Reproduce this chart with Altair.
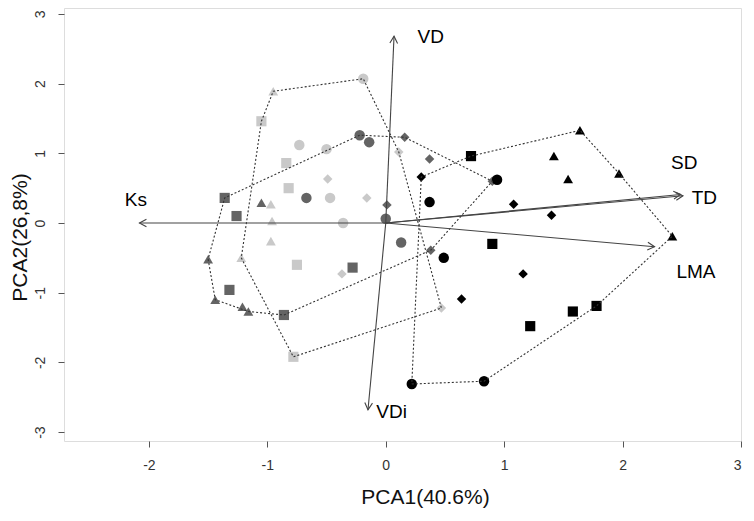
import math
import altair as alt
import pandas as pd

# ---------------- data ----------------
groups = (["light"] * 20) + (["dark"] * 20) + (["black"] * 20)
shapes = (
    # light
    ["circle", "triangle-up", "square", "circle", "circle", "square", "diamond", "square",
     "circle", "diamond", "triangle-up", "triangle-up", "circle", "triangle-up", "triangle-up",
     "square", "diamond", "square", "diamond", "diamond"]
    # dark
    + ["circle", "circle", "circle", "circle", "circle",
       "square", "square", "square", "square", "square",
       "triangle-up", "triangle-up", "triangle-up", "triangle-up", "triangle-up",
       "diamond", "diamond", "diamond", "diamond", "diamond"]
    # black
    + ["triangle-up", "triangle-up", "triangle-up", "triangle-up", "triangle-up",
       "square", "square", "square", "square", "square",
       "circle", "circle", "circle", "circle", "circle",
       "diamond", "diamond", "diamond", "diamond", "diamond"]
)
pc1 = (
    [-0.19, -0.95, -1.05, -0.73, -0.50, -0.84, -0.49, -0.82, -0.47, -0.16,
     -0.97, -0.96, -0.36, -0.97, -1.22, -0.75, -0.37, -0.78, 0.11, 0.47]
    + [-0.22, -0.14, -0.67, 0.00, 0.13,
       -1.36, -1.26, -0.28, -1.32, -0.86,
       -1.05, -1.50, -1.44, -1.21, -1.16,
       0.16, 0.37, 0.01, 0.38, 0.90]
    + [1.64, 1.42, 1.97, 1.54, 2.42,
       0.72, 0.90, 1.78, 1.58, 1.22,
       0.94, 0.37, 0.49, 0.22, 0.83,
       0.30, 1.08, 1.40, 1.16, 0.64]
)
pc2 = (
    [2.07, 1.89, 1.46, 1.12, 1.06, 0.86, 0.63, 0.50, 0.36, 0.36,
     0.27, 0.03, 0.00, -0.26, -0.50, -0.60, -0.73, -1.92, 1.02, -1.22]
    + [1.26, 1.16, 0.36, 0.06, -0.28,
       0.36, 0.10, -0.64, -0.96, -1.32,
       0.29, -0.52, -1.10, -1.20, -1.27,
       1.23, 0.92, 0.26, -0.39, 0.60]
    + [1.33, 0.96, 0.71, 0.63, -0.19,
       0.96, -0.30, -1.19, -1.27, -1.48,
       0.62, 0.30, -0.50, -2.31, -2.27,
       0.66, 0.27, 0.11, -0.73, -1.09]
)

arrow_names = ["Ks", "VD", "VDi", "SD", "TD", "LMA"]
arrow_x = [-2.08, 0.07, -0.15, 2.49, 2.51, 2.27]
arrow_y = [0.00, 2.68, -2.68, 0.41, 0.39, -0.34]
label_x = [-2.11, 0.38, 0.05, 2.52, 2.69, 2.62]
label_y = [0.33, 2.67, -2.71, 0.86, 0.36, -0.70]

x_ticks = [-2, -1, 0, 1, 2, 3]
y_ticks = [-3, -2, -1, 0, 1, 2, 3]

# ---------------- layout ----------------
W, H = 677, 433
XD = [-2.717, 3.0]
YD = [-3.128, 3.085]
kx = W / (XD[1] - XD[0])
ky = H / (YD[1] - YD[0])
FONT = "Liberation Sans"

pts = pd.DataFrame({"group": groups, "shape": shapes, "x": pc1, "y": pc2})


def convex_hull(p):
    p = sorted(set(p))
    if len(p) < 3:
        return p

    def cross(o, a, b):
        return (a[0] - o[0]) * (b[1] - o[1]) - (a[1] - o[1]) * (b[0] - o[0])

    lower, upper = [], []
    for q in p:
        while len(lower) >= 2 and cross(lower[-2], lower[-1], q) <= 0:
            lower.pop()
        lower.append(q)
    for q in reversed(p):
        while len(upper) >= 2 and cross(upper[-2], upper[-1], q) <= 0:
            upper.pop()
        upper.append(q)
    return lower[:-1] + upper[:-1]


hull_rows = []
for g in ["light", "dark", "black"]:
    sub = pts[pts.group == g]
    h = convex_hull(list(zip(sub.x, sub.y)))
    h = h + [h[0]]
    for i, (hx, hy) in enumerate(h):
        hull_rows.append({"group": g, "i": i, "x": hx, "y": hy})
hull = pd.DataFrame(hull_rows)

arr = pd.DataFrame({"name": arrow_names, "x": arrow_x, "y": arrow_y,
                    "lx": label_x, "ly": label_y})
arr["x0"] = 0.0
arr["y0"] = 0.0
arr["ang"] = [
    (math.degrees(math.atan2(-dy * ky, dx * kx)) + 360) % 360
    for dx, dy in zip(arr.x, arr.y)
]

xs = alt.Scale(domain=XD, nice=False, zero=False)
ys = alt.Scale(domain=YD, nice=False, zero=False)

x_axis = alt.Axis(
    values=x_ticks, title="PCA1(40.6%)", grid=False, domain=False,
    labelExpr="toString(datum.value)",
    tickSize=6, tickColor="#555", labelFontSize=14, labelColor="#333",
    labelFont=FONT, labelPadding=11, titleFont=FONT, titleFontSize=21,
    titleFontWeight="normal", titleColor="#111", titleX=361, titleY=56,
    titleAlign="center", titleBaseline="middle",
)
y_axis = alt.Axis(
    values=y_ticks, title="PCA2(26,8%)", grid=False, domain=False,
    labelExpr="toString(datum.value)",
    tickSize=6, tickColor="#555", labelFontSize=14, labelColor="#333",
    labelFont=FONT, labelAngle=270, labelAlign="center", labelBaseline="middle",
    labelPadding=18, titleFont=FONT, titleFontSize=21, titleFontWeight="normal",
    titleColor="#111", titleX=-44, titleY=229, titleAngle=270,
    titleAlign="center", titleBaseline="middle",
)

points = alt.Chart(pts).mark_point(filled=True, opacity=1, strokeWidth=0).encode(
    x=alt.X("x:Q", scale=xs, axis=x_axis),
    y=alt.Y("y:Q", scale=ys, axis=y_axis),
    color=alt.Color("group:N", scale=alt.Scale(domain=["light", "dark", "black"],
                                               range=["#c9c9c9", "#646464", "#000000"]),
                    legend=None),
    shape=alt.Shape("shape:N", scale=alt.Scale(domain=["circle", "square", "triangle-up", "diamond"],
                                               range=["circle", "square", "triangle-up", "diamond"]),
                    legend=None),
    size=alt.Size("shape:N", scale=alt.Scale(domain=["circle", "square", "triangle-up", "diamond"],
                                             range=[110, 90, 165, 64]),
                  legend=None),
)

hulls = alt.Chart(hull).mark_line(strokeDash=[2, 2], strokeWidth=1.1, color="#333").encode(
    x=alt.X("x:Q", scale=xs),
    y=alt.Y("y:Q", scale=ys),
    detail="group:N",
    order=alt.Order("i:Q"),
)

rules = alt.Chart(arr).mark_rule(color="#444", strokeWidth=1.1).encode(
    x=alt.X("x0:Q", scale=xs), y=alt.Y("y0:Q", scale=ys),
    x2="x:Q", y2="y:Q",
)

heads = alt.Chart(arr).mark_point(
    shape="M -1 -0.55 L 0 0 L -1 0.55", filled=False, color="#444",
    strokeWidth=1.1, size=196, opacity=1,
).encode(
    x=alt.X("x:Q", scale=xs), y=alt.Y("y:Q", scale=ys),
    angle=alt.Angle("ang:Q", scale=None),
)

labels = alt.Chart(arr).mark_text(font=FONT, fontSize=19, color="#000",
                                  align="center", baseline="middle").encode(
    x=alt.X("lx:Q", scale=xs), y=alt.Y("ly:Q", scale=ys), text="name:N",
)

chart = alt.layer(points, hulls, rules, heads, labels).properties(
    width=W, height=H,
    autosize=alt.AutoSizeParams(type="none"),
    padding={"left": 56, "top": 0, "right": 5, "bottom": 80},
).configure_view(stroke="#555", strokeWidth=1.2).configure(background="white")

chart.save("out.html", embed_options={"renderer": "svg", "actions": False})
